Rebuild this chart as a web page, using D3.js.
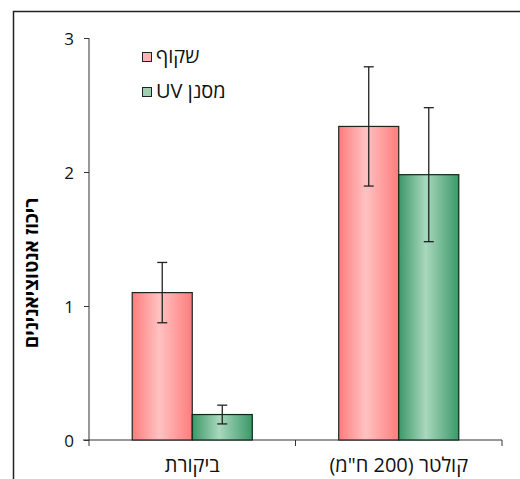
<!DOCTYPE html>
<html>
<head>
<meta charset="utf-8">
<script src="https://cdn.jsdelivr.net/npm/d3@7"></script>
<style>
  html, body { margin: 0; padding: 0; background: #fff; }
  svg { display: block; }
</style>
</head>
<body>
<svg id="chart" width="520" height="479"></svg>
<script>
// Anthocyanin concentration by treatment and cover type
const categories = ["ביקורת", "קולטר (200 ח\"מ)"];
const seriesNames = ["שקוף", "מסנן UV"];
const clearValues = [1.10, 2.34];
const clearErrors = [0.225, 0.445];
const uvValues = [0.19, 1.98];
const uvErrors = [0.07, 0.50];
const yTicks = [0, 1, 2, 3];
const yTitle = "ריכוז אנטוציאנינים";

const series = [
  { name: seriesNames[0], values: clearValues, errors: clearErrors, key: "red" },
  { name: seriesNames[1], values: uvValues, errors: uvErrors, key: "green" }
];

const svg = d3.select("#chart");
const font = "'Open Sans', 'DejaVu Sans', sans-serif";

// gradients
const defs = svg.append("defs");
const gradSpecs = {
  red:   { edge: "#ff7c7c", mid: "#ffc2c2" },
  green: { edge: "#3b9868", mid: "#a9d8bd" }
};
Object.entries(gradSpecs).forEach(([k, c]) => {
  const g = defs.append("linearGradient").attr("id", "grad-" + k)
    .attr("x1", "0%").attr("x2", "100%").attr("y1", "0%").attr("y2", "0%");
  g.append("stop").attr("offset", "0%").attr("stop-color", c.edge);
  g.append("stop").attr("offset", "45%").attr("stop-color", c.mid);
  g.append("stop").attr("offset", "100%").attr("stop-color", c.edge);
});

// outer frame
svg.append("rect")
  .attr("x", 13.5).attr("y", 11.5).attr("width", 560).attr("height", 520)
  .attr("fill", "none").attr("stroke", "#222").attr("stroke-width", 1.5);

const plot = { left: 89, right: 502, top: 38, bottom: 440 };

const x0 = d3.scaleBand().domain(categories).range([plot.left, plot.right]).paddingInner(0).paddingOuter(0);
const x1 = d3.scaleBand().domain(seriesNames).range([0, x0.bandwidth()]).paddingInner(0).paddingOuter(0.72);
const y = d3.scaleLinear().domain([0, 3]).range([plot.bottom, plot.top]);

// y axis
const yAxis = svg.append("g").attr("transform", `translate(${plot.left},0)`)
  .call(d3.axisLeft(y).tickValues(yTicks).tickFormat(d3.format("d")).tickSize(5).tickSizeOuter(0));
yAxis.select(".domain").attr("d", `M0,${plot.top}V${plot.bottom + 6}`).attr("stroke", "#333");
yAxis.selectAll(".tick line").attr("stroke", "#333");
yAxis.selectAll(".tick text")
  .attr("x", -15).attr("dy", "0.36em")
  .attr("font-family", font).attr("font-size", 17).attr("fill", "#111");

// x axis
const xAxis = svg.append("g").attr("transform", `translate(0,${plot.bottom})`);
xAxis.append("line").attr("x1", plot.left - 6).attr("x2", plot.right).attr("y1", 0).attr("y2", 0)
  .attr("stroke", "#333");
const dividers = [x0(categories[1]), plot.right];
xAxis.selectAll("line.div").data(dividers).join("line").attr("class", "div")
  .attr("x1", d => d).attr("x2", d => d).attr("y1", 0).attr("y2", 6).attr("stroke", "#333");
xAxis.selectAll("text").data(categories).join("text")
  .attr("x", d => x0(d) + x0.bandwidth() / 2).attr("y", 32)
  .attr("text-anchor", "middle").attr("direction", "rtl")
  .attr("font-family", font).attr("font-size", 20).attr("fill", "#111")
  .text(d => d);

// bars
const groups = svg.append("g").selectAll("g").data(categories).join("g")
  .attr("transform", d => `translate(${x0(d)},0)`);

series.forEach(s => {
  groups.append("rect")
    .attr("x", (d, i) => x1(s.name))
    .attr("y", (d, i) => y(s.values[i]))
    .attr("width", x1.bandwidth())
    .attr("height", (d, i) => y(0) - y(s.values[i]))
    .attr("fill", `url(#grad-${s.key})`)
    .attr("stroke", s.key === "green" ? "#0c2a1a" : "#222")
    .attr("stroke-width", 1.2);
});

// error bars
series.forEach(s => {
  groups.each(function (d, i) {
    const g = d3.select(this);
    const cx = x1(s.name) + x1.bandwidth() / 2;
    const hi = y(s.values[i] + s.errors[i]);
    const lo = y(s.values[i] - s.errors[i]);
    const stroke = "#222";
    g.append("line").attr("x1", cx).attr("x2", cx).attr("y1", hi).attr("y2", lo)
      .attr("stroke", stroke).attr("stroke-width", 1.3);
    [hi, lo].forEach(yy => g.append("line")
      .attr("x1", cx - 5).attr("x2", cx + 5).attr("y1", yy).attr("y2", yy)
      .attr("stroke", stroke).attr("stroke-width", 1.3));
  });
});

// legend
const legend = svg.append("g").attr("transform", "translate(142,52)");
series.forEach((s, i) => {
  const row = legend.append("g").attr("transform", `translate(0,${i * 35})`);
  row.append("rect").attr("x", 0.5).attr("y", 0.5).attr("width", 9).attr("height", 9)
    .attr("fill", s.key === "red" ? "#ffb3b3" : "#9fcfb1").attr("stroke", "#222").attr("stroke-width", 1);
  row.append("text").attr("x", 14).attr("y", 11)
    .attr("font-family", font).attr("font-size", 20).attr("fill", "#111")
    .attr("direction", "rtl").attr("text-anchor", "end")
    .text(s.name);
});

// y axis title
svg.append("text")
  .attr("transform", `translate(38,${(plot.top + plot.bottom) / 2 + 34}) rotate(-90)`)
  .attr("text-anchor", "middle").attr("direction", "rtl")
  .attr("font-family", font).attr("font-size", 19).attr("font-weight", "bold").attr("fill", "#000")
  .text(yTitle);
</script>
</body>
</html>
